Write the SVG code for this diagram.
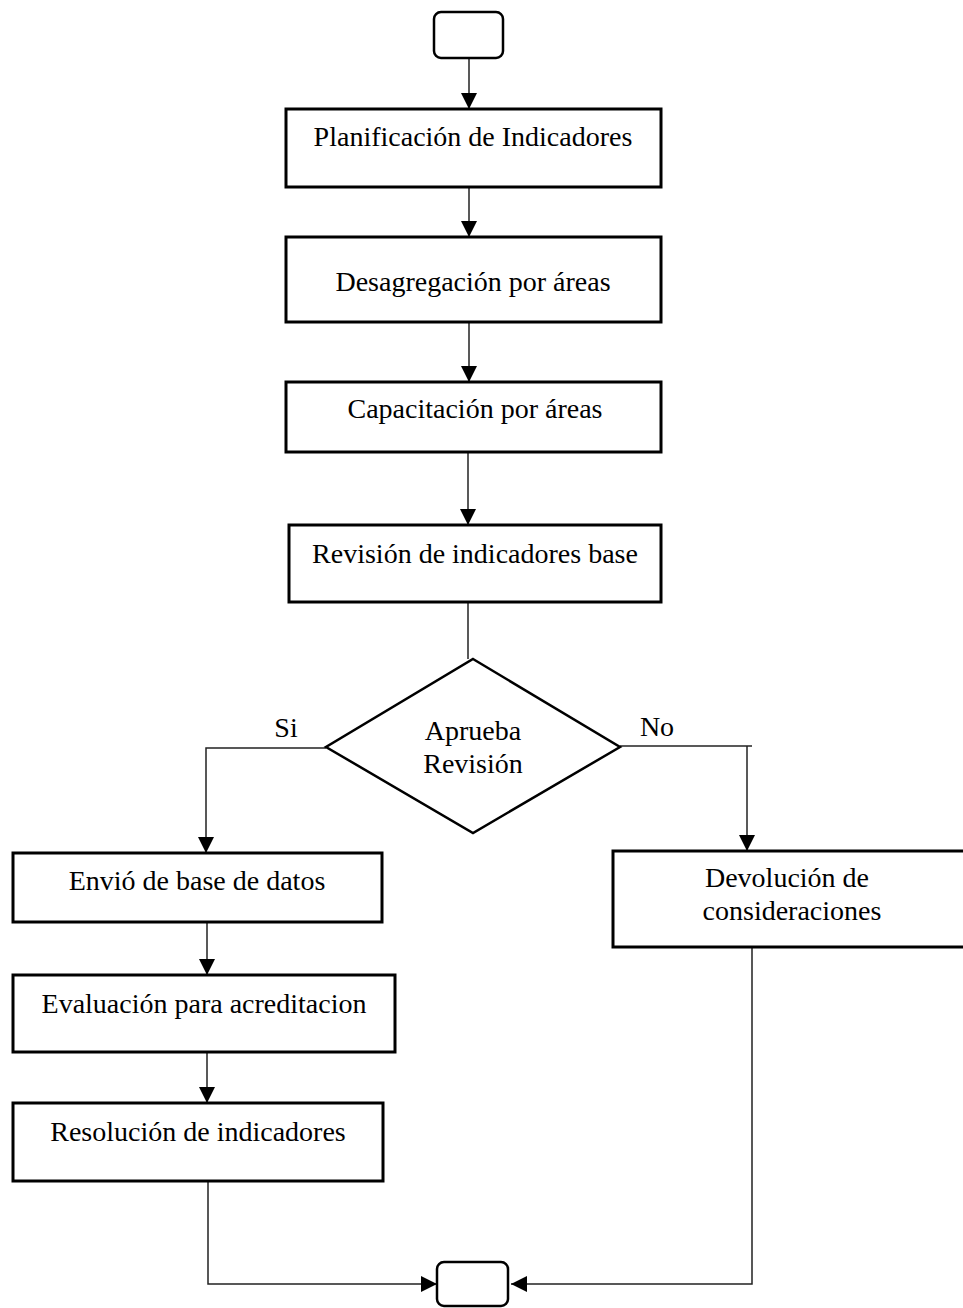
<svg xmlns="http://www.w3.org/2000/svg" width="963" height="1308" viewBox="0 0 963 1308">
  <defs>
    <marker id="arrow" markerUnits="userSpaceOnUse" markerWidth="16" markerHeight="16" refX="16" refY="8" orient="auto">
      <path d="M0,0 L16,8 L0,16 z" fill="#000"/>
    </marker>
    <style>
      .box { fill: #fff; stroke: #000; stroke-width: 3; }
      .term { fill: #fff; stroke: #000; stroke-width: 2.5; }
      .dec { fill: #fff; stroke: #000; stroke-width: 2.5; }
      .conn { fill: none; stroke: #222; stroke-width: 1.5; }
      .arr { marker-end: url(#arrow); }
      text { font-family: "Liberation Serif", "Times New Roman", serif; font-size: 28px; fill: #000; text-anchor: middle; }
    </style>
  </defs>
  <rect width="963" height="1308" fill="#fff"/>

  <!-- connectors -->
  <g id="connectors">
    <path class="conn arr" d="M469,58 V109"/>
    <path class="conn arr" d="M469,187 V237"/>
    <path class="conn arr" d="M469,322 V382"/>
    <path class="conn arr" d="M468,452 V525"/>
    <path class="conn" d="M468,602 V659"/>
    <path class="conn arr" d="M326,748 H206 V853"/>
    <path class="conn" d="M620,746 H752"/>
    <path class="conn arr" d="M747,746 V851"/>
    <path class="conn arr" d="M207,922 V975"/>
    <path class="conn arr" d="M207,1052 V1103"/>
    <path class="conn arr" d="M208,1181 V1284 H437"/>
    <path class="conn arr" d="M752,947 V1284 H511"/>
  </g>

  <g id="start">
    <rect class="term" x="434" y="12" width="69" height="46" rx="7"/>
  </g>

  <g id="planificacion">
    <rect class="box" x="286" y="109" width="375" height="78"/>
    <text x="473" y="146">Planificación de Indicadores</text>
  </g>

  <g id="desagregacion">
    <rect class="box" x="286" y="237" width="375" height="85"/>
    <text x="473" y="291">Desagregación por áreas</text>
  </g>

  <g id="capacitacion">
    <rect class="box" x="286" y="382" width="375" height="70"/>
    <text x="475" y="418">Capacitación por áreas</text>
  </g>

  <g id="revision">
    <rect class="box" x="289" y="525" width="372" height="77"/>
    <text x="475" y="563">Revisión de indicadores base</text>
  </g>

  <g id="aprueba">
    <polygon class="dec" points="473,659 620,747 473,833 326,747"/>
    <text x="473" y="740">Aprueba</text>
    <text x="473" y="773">Revisión</text>
  </g>

  <g id="labels">
    <text x="286" y="737">Si</text>
    <text x="657" y="736">No</text>
  </g>

  <g id="envio">
    <rect class="box" x="13" y="853" width="369" height="69"/>
    <text x="197" y="890">Envió de base de datos</text>
  </g>

  <g id="evaluacion">
    <rect class="box" x="13" y="975" width="382" height="77"/>
    <text x="204" y="1013">Evaluación para acreditacion</text>
  </g>

  <g id="resolucion">
    <rect class="box" x="13" y="1103" width="370" height="78"/>
    <text x="198" y="1141">Resolución de indicadores</text>
  </g>

  <g id="devolucion">
    <rect class="box" x="613" y="851" width="352" height="96"/>
    <text x="787" y="887">Devolución de</text>
    <text x="792" y="920">consideraciones</text>
  </g>

  <g id="end">
    <rect class="term" x="437" y="1262" width="71" height="44" rx="7"/>
  </g>
</svg>
